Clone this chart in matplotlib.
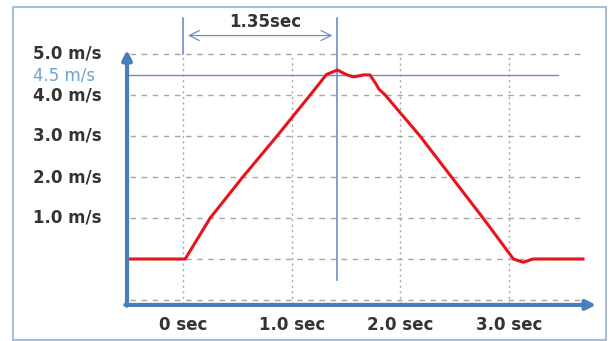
import numpy as np
import matplotlib.pyplot as plt
from matplotlib.patches import Rectangle

# Datos (tiempo en s, velocidad en m/s)
tiempo = [-0.49, 0.02, 0.25, 0.55, 0.865, 1.17, 1.32, 1.42, 1.50, 1.57, 1.66, 1.72,
          1.78, 1.80, 1.86, 2.18, 2.47, 2.76, 3.04, 3.13, 3.22, 3.68]
velocidad = [0.0, 0.0, 1.0, 2.0, 3.0, 4.0, 4.5, 4.61, 4.50, 4.44, 4.49, 4.49,
             4.25, 4.15, 4.0, 3.0, 2.0, 1.0, 0.0, -0.08, 0.0, 0.0]

ticks_y = [5.0, 4.0, 3.0, 2.0, 1.0]
etiquetas_y = ["5.0 m/s", "4.0 m/s", "3.0 m/s", "2.0 m/s", "1.0 m/s"]
ticks_x = [0.0, 1.0, 2.0, 3.0]
etiquetas_x = ["0 sec", "1.0 sec", "2.0 sec", "3.0 sec"]
grid_y = [5.0, 4.0, 3.0, 2.0, 1.0, 0.0, -1.0]
v_marca = 4.5
t_marca = 1.42
texto_marca = "1.35sec"

AZUL = "#4a7ebb"
AZUL_FINO = "#6d8fc0"
ROJO = "#e8141b"
GRIS = "#a6a6a6"
TEXTO = "#333333"

fig = plt.figure(figsize=(6.15, 3.41), dpi=100)
ax = fig.add_axes([0, 0, 1, 1])
ax.set_xlim(-183 / 108.7, (615 - 183) / 108.7)
ax.set_ylim(-82 / 41, 259 / 41)
ax.axis('off')

# borde
fig.patches.append(Rectangle((13 / 615, 1 / 341), 593 / 615, 333 / 341,
                             transform=fig.transFigure, fill=False,
                             edgecolor="#a9bcd9", lw=1.5))

x0, x1 = -0.49, 3.68
for gy in grid_y:
    ax.plot([x0, x1], [gy, gy], color=GRIS, lw=1, ls=(0, (4, 4)))
for gx in ticks_x:
    ax.plot([gx, gx], [-1.1, 5.0], color=GRIS, lw=1, ls=(0, (1.5, 2.5)))

# linea 4.5 m/s y linea del pico
ax.plot([-0.52, 3.45], [v_marca, v_marca], color=AZUL_FINO, lw=1)
ax.plot([t_marca, t_marca], [-0.5, 5.88], color=AZUL_FINO, lw=1.2)
ax.plot([0, 0], [5.0, 5.88], color=AZUL_FINO, lw=1.2)

# flecha de duracion
ax.annotate("", xy=(0.02, 5.45), xytext=(t_marca - 0.02, 5.45),
            arrowprops=dict(arrowstyle="<->", color=AZUL_FINO, lw=0.9,
                            mutation_scale=18))
ax.text((0 + t_marca) / 2 + 0.05, 5.77, texto_marca, ha="center", va="center",
        fontsize=12, fontweight="bold", color=TEXTO)

# ejes
ax.annotate("", xy=(-0.515, 5.1), xytext=(-0.515, -1.14),
            arrowprops=dict(arrowstyle="-|>", color=AZUL, lw=3, mutation_scale=14,
                            shrinkA=0, shrinkB=0))
ax.annotate("", xy=(3.8, -1.12), xytext=(-0.53, -1.12),
            arrowprops=dict(arrowstyle="-|>", color=AZUL, lw=3, mutation_scale=14,
                            shrinkA=0, shrinkB=0))

# curva de velocidad
ax.plot(tiempo, velocidad, color=ROJO, lw=2.2, solid_joinstyle="round")

# etiquetas
for v, lab in zip(ticks_y, etiquetas_y):
    ax.text(-1.38, v, lab, ha="left", va="center", fontsize=12,
            fontweight="bold", color=TEXTO)
ax.text(-1.38, v_marca - 0.02, "4.5 m/s", ha="left", va="center", fontsize=12,
        color="#6aa6cf")
for t, lab in zip(ticks_x, etiquetas_x):
    ax.text(t, -1.6, lab, ha="center", va="center", fontsize=12,
            fontweight="bold", color=TEXTO)

fig.savefig("out.png", dpi=100)
